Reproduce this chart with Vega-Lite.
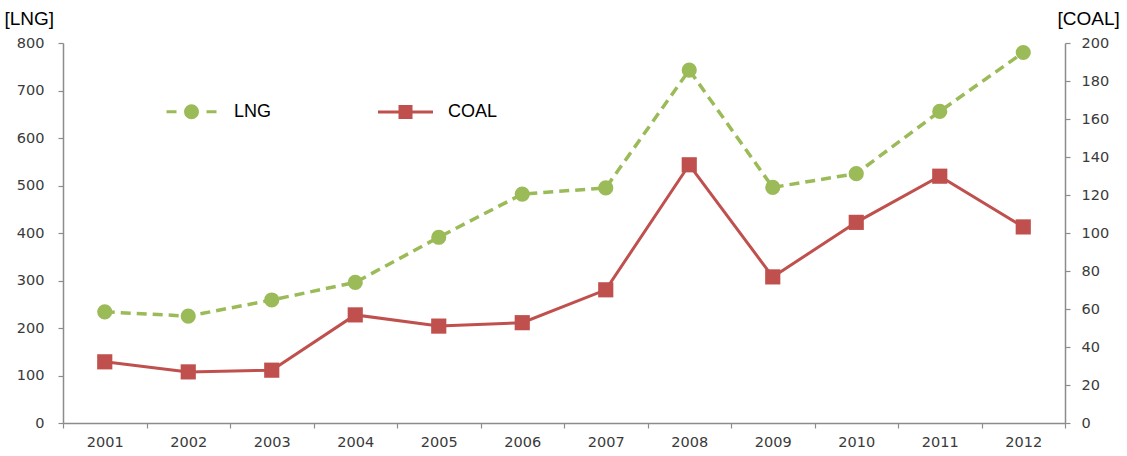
{
  "$schema": "https://vega.github.io/schema/vega-lite/v6.json",
  "width": 1002,
  "height": 380,
  "autosize": {"type": "none"},
  "padding": {"left": 63, "top": 43, "right": 62, "bottom": 33},
  "background": "white",
  "config": {
    "view": {"stroke": null},
    "axis": {
      "grid": false,
      "domainColor": "#8c8c8c",
      "domainWidth": 1.5,
      "tickColor": "#8c8c8c",
      "tickWidth": 1.2,
      "tickSize": 5,
      "labelFont": "DejaVu Sans",
      "labelFontSize": 14.5,
      "labelColor": "#3a3a3a",
      "titleFont": "Liberation Sans",
      "titleFontSize": 19,
      "titleFontWeight": "normal",
      "titleColor": "#000000"
    }
  },
  "data": {
    "values": [
      {"year": "2001", "series": "LNG", "value": 234},
      {"year": "2002", "series": "LNG", "value": 225},
      {"year": "2003", "series": "LNG", "value": 259},
      {"year": "2004", "series": "LNG", "value": 296},
      {"year": "2005", "series": "LNG", "value": 391},
      {"year": "2006", "series": "LNG", "value": 482},
      {"year": "2007", "series": "LNG", "value": 495},
      {"year": "2008", "series": "LNG", "value": 743},
      {"year": "2009", "series": "LNG", "value": 496},
      {"year": "2010", "series": "LNG", "value": 525},
      {"year": "2011", "series": "LNG", "value": 656},
      {"year": "2012", "series": "LNG", "value": 780},
      {"year": "2001", "series": "COAL", "value": 32.2},
      {"year": "2002", "series": "COAL", "value": 26.9},
      {"year": "2003", "series": "COAL", "value": 27.8},
      {"year": "2004", "series": "COAL", "value": 56.9},
      {"year": "2005", "series": "COAL", "value": 51.0},
      {"year": "2006", "series": "COAL", "value": 52.8},
      {"year": "2007", "series": "COAL", "value": 70.1},
      {"year": "2008", "series": "COAL", "value": 135.9},
      {"year": "2009", "series": "COAL", "value": 76.9},
      {"year": "2010", "series": "COAL", "value": 105.6},
      {"year": "2011", "series": "COAL", "value": 129.9},
      {"year": "2012", "series": "COAL", "value": 103.2}
    ]
  },
  "encoding": {
    "x": {
      "field": "year",
      "type": "ordinal",
      "bandPosition": 0.5,
      "scale": {"type": "band", "paddingInner": 0, "paddingOuter": 0},
      "axis": {"title": null, "tickBand": "extent", "labelAngle": 0, "labelPadding": 7}
    },
    "color": {
      "field": "series",
      "type": "nominal",
      "scale": {"domain": ["LNG", "COAL"], "range": ["#9bbb59", "#c0504d"]},
      "legend": {
        "title": null,
        "orient": "none",
        "direction": "horizontal",
        "legendX": 102,
        "legendY": 42,
        "padding": 0,
        "symbolSize": 2500,
        "symbolStrokeWidth": 3,
        "labelFont": "Liberation Sans",
        "labelFontSize": 18,
        "labelColor": "#000000",
        "labelOffset": 16,
        "columnPadding": 100,
        "encode": {
          "symbols": {
            "update": {
              "shape": {"signal": "datum.value === 'LNG' ? 'M-1,0H-0.6M0.6,0H1M-0.24,0A0.24,0.24 0 1,0 0.24,0A0.24,0.24 0 1,0 -0.24,0Z' : 'M-1.1,0H1.1M-0.22,-0.22H0.22V0.22H-0.22Z'"},
              "fill": {"signal": "datum.value === 'LNG' ? '#9bbb59' : '#c0504d'"},
              "stroke": {"signal": "datum.value === 'LNG' ? '#9bbb59' : '#c0504d'"},
              "opacity": {"value": 1}
            }
          }
        }
      }
    }
  },
  "layer": [
    {
      "transform": [{"filter": "datum.series === 'LNG'"}],
      "encoding": {
        "y": {
          "field": "value",
          "type": "quantitative",
          "scale": {"domain": [0, 800], "nice": false},
          "axis": {
            "orient": "left",
            "values": [0, 100, 200, 300, 400, 500, 600, 700, 800],
            "labelPadding": 14,
            "title": "[LNG]",
            "titleAngle": 0,
            "titleAlign": "left",
            "titleBaseline": "middle",
            "titleX": -59,
            "titleY": -25
          }
        }
      },
      "layer": [
        {"mark": {"type": "line", "strokeWidth": 3.5, "strokeDash": [10, 6]}},
        {"mark": {"type": "point", "shape": "circle", "filled": true, "size": 230, "opacity": 1}}
      ]
    },
    {
      "transform": [{"filter": "datum.series === 'COAL'"}],
      "encoding": {
        "y": {
          "field": "value",
          "type": "quantitative",
          "scale": {"domain": [0, 200], "nice": false},
          "axis": {
            "orient": "right",
            "values": [0, 20, 40, 60, 80, 100, 120, 140, 160, 180, 200],
            "labelPadding": 11,
            "title": "[COAL]",
            "titleAngle": 0,
            "titleAlign": "left",
            "titleBaseline": "middle",
            "titleX": -8,
            "titleY": -25
          }
        }
      },
      "layer": [
        {"mark": {"type": "line", "strokeWidth": 3}},
        {"mark": {"type": "point", "shape": "square", "filled": true, "size": 230, "opacity": 1}}
      ]
    }
  ],
  "resolve": {"scale": {"y": "independent"}}
}
